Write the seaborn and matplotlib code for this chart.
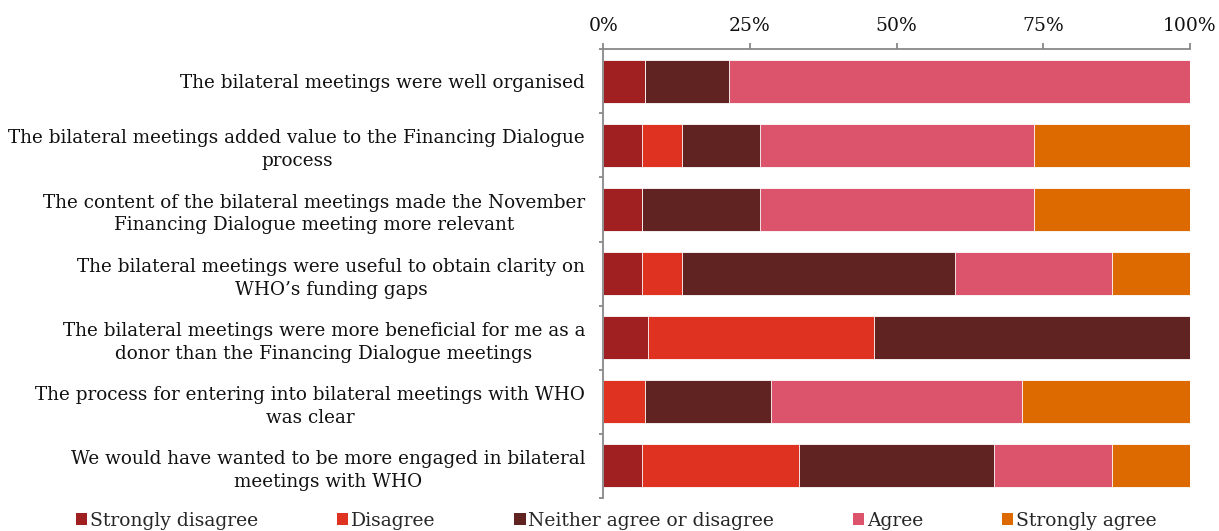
import matplotlib
matplotlib.use("Agg")
import matplotlib.pyplot as plt
from matplotlib.patches import Patch
from matplotlib.ticker import FixedLocator, FuncFormatter
import numpy as np
import pandas as pd
import seaborn as sns

statements = [
    "The bilateral meetings were well organised",
    "The bilateral meetings added value to the Financing Dialogue\nprocess",
    "The content of the bilateral meetings made the November\nFinancing Dialogue meeting more relevant",
    "The bilateral meetings were useful to obtain clarity on\nWHO\u2019s funding gaps",
    "The bilateral meetings were more beneficial for me as a\ndonor than the Financing Dialogue meetings",
    "The process for entering into bilateral meetings with WHO\nwas clear",
    "We would have wanted to be more engaged in bilateral\nmeetings with WHO",
]
responses = ["Strongly disagree", "Disagree", "Neither agree or disagree",
             "Agree", "Strongly agree"]

# share of respondents (%) per statement
strongly_disagree = [7.14, 6.67, 6.67, 6.67, 7.69, 0.0, 6.67]
disagree = [0.0, 6.67, 0.0, 6.67, 38.46, 7.14, 26.67]
neither = [14.29, 13.33, 20.0, 46.67, 53.85, 21.43, 33.33]
agree = [78.57, 46.67, 46.67, 26.67, 0.0, 42.86, 20.0]
strongly_agree = [0.0, 26.67, 26.67, 13.33, 0.0, 28.57, 13.33]

colors = ["#A01F20", "#E03220", "#612222", "#DC546C", "#DC6A00"]
x_ticks = [0, 25, 50, 75, 100]

sns.set_style("white")
plt.rcParams["font.family"] = ["DejaVu Serif"]

wide = pd.DataFrame(
    {r: v for r, v in zip(responses,
                          [strongly_disagree, disagree, neither, agree, strongly_agree])},
    index=statements,
)
cum = wide.cumsum(axis=1)

fig = plt.figure(figsize=(12.19, 5.31), dpi=100)
ax = fig.add_axes([0.4949, 0.0621, 0.4813, 0.8451])

# stacked bars: draw the cumulative totals from the outermost layer inward
for resp, col in reversed(list(zip(responses, colors))):
    layer = pd.DataFrame({"statement": statements, "value": cum[resp].values})
    sns.barplot(data=layer, x="value", y="statement", order=statements,
                color=col, saturation=1, width=0.67, edgecolor="white",
                linewidth=0.6, ax=ax)

ax.set_xlim(0, 100)
ax.set_ylim(6.5, -0.5)
ax.set_xlabel("")
ax.set_ylabel("")

axis_grey = "#888888"
for side in ["right", "bottom"]:
    ax.spines[side].set_visible(False)
for side in ["left", "top"]:
    ax.spines[side].set_color(axis_grey)
    ax.spines[side].set_linewidth(1.3)

ax.xaxis.tick_top()
ax.xaxis.set_major_locator(FixedLocator(x_ticks))
ax.xaxis.set_major_formatter(FuncFormatter(lambda v, p: f"{v:.0f}%"))
ax.tick_params(axis="x", which="major", direction="out", length=4, width=1.3,
               color=axis_grey, pad=6, labelsize=13.5, labelcolor="#111111")

ax.yaxis.set_minor_locator(FixedLocator(np.arange(-0.5, 7.0, 1.0)))
ax.tick_params(axis="y", which="major", length=0, pad=13, labelsize=13.2,
               labelcolor="#111111")
ax.tick_params(axis="y", which="minor", direction="out", length=3, width=1.3,
               color=axis_grey, left=True)
for lab in ax.get_yticklabels():
    lab.set_multialignment("center")
    lab.set_linespacing(1.35)

handles = [Patch(facecolor=c, edgecolor="none", label=r)
           for r, c in zip(responses, colors)]
fig.legend(handles=handles, loc="center", bbox_to_anchor=(0.5057, 0.019),
           ncol=5, frameon=False, fontsize=13.5, handlelength=0.6,
           handleheight=0.6, handletextpad=0.15, columnspacing=4.2,
           borderaxespad=0, borderpad=0)

fig.savefig("out.png", dpi=100)
